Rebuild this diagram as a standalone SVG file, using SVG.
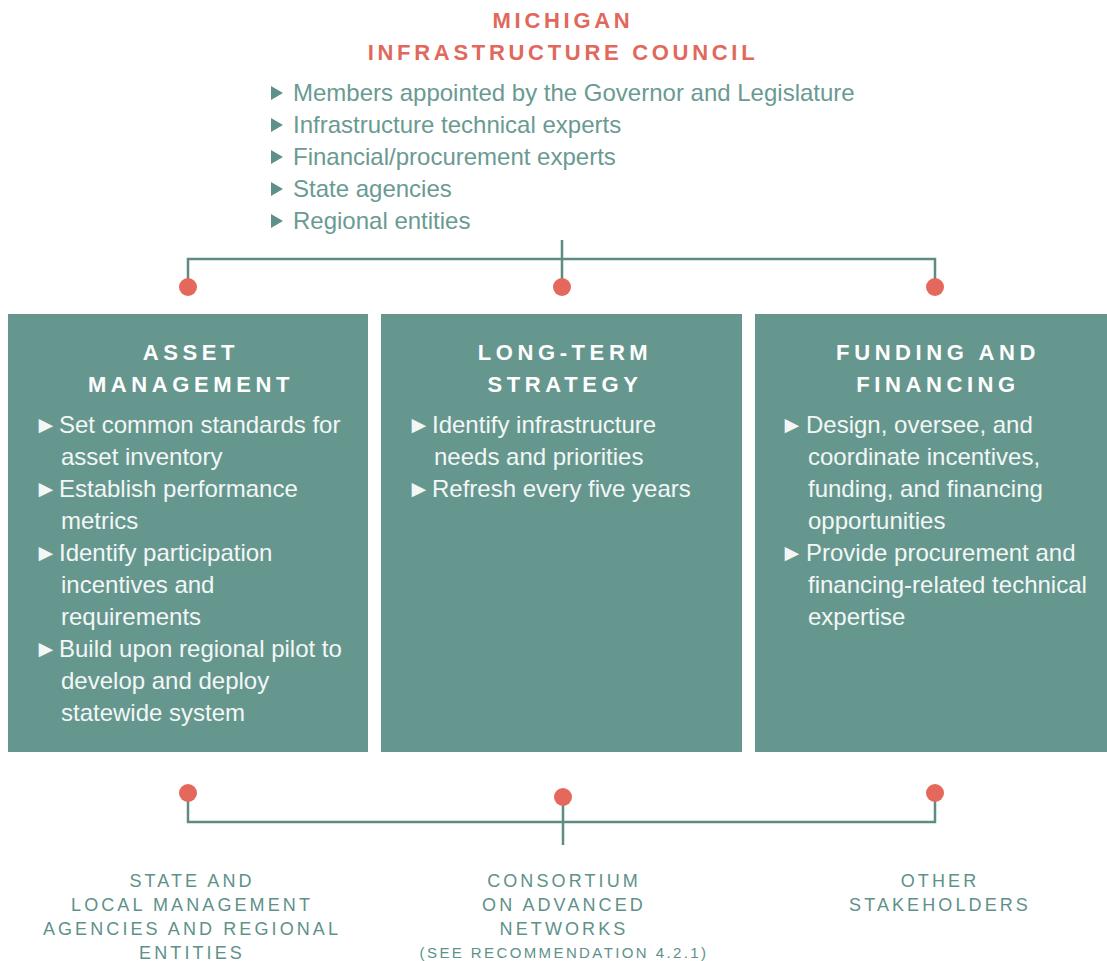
<svg xmlns="http://www.w3.org/2000/svg" xmlns:xlink="http://www.w3.org/1999/xlink" width="1107" height="961" viewBox="0 0 1107 961">
<style>
.title{font-family:"Liberation Sans",Arial,sans-serif;font-weight:bold;font-size:22px;letter-spacing:3.7px;fill:#e0685c;text-anchor:middle}
.mem{font-family:"Liberation Sans",Arial,sans-serif;font-size:24px;fill:#6a9a92}
.box{fill:#66978e}
.hdr{font-family:"Liberation Sans",Arial,sans-serif;font-weight:bold;font-size:22px;letter-spacing:4.6px;fill:#ffffff;text-anchor:middle}
.bt{font-family:"Liberation Sans",Arial,sans-serif;font-size:24px;fill:#f2f7f6}
.lbl{font-family:"Liberation Sans",Arial,sans-serif;font-size:18px;letter-spacing:3.1px;fill:#5e9189;text-anchor:middle}
.sm{font-size:15px;letter-spacing:2.4px}
.ln{stroke:#5e8c83;stroke-width:2.5;fill:none}
.dot{fill:#e5685c}
</style>
<defs>
<polygon id="tri" points="0,-7 12,0 0,7" fill="#5e9189"/>
</defs>
<g id="council">
<text class="title" x="563" y="28">MICHIGAN</text>
<text class="title" x="563" y="60">INFRASTRUCTURE COUNCIL</text>
<use xlink:href="#tri" x="271" y="93"/>
<use xlink:href="#tri" x="271" y="125"/>
<use xlink:href="#tri" x="271" y="157"/>
<use xlink:href="#tri" x="271" y="189"/>
<use xlink:href="#tri" x="271" y="221"/>
<text class="mem" x="293" y="101">Members appointed by the Governor and Legislature</text>
<text class="mem" x="293" y="133">Infrastructure technical experts</text>
<text class="mem" x="293" y="165">Financial/procurement experts</text>
<text class="mem" x="293" y="197">State agencies</text>
<text class="mem" x="293" y="229">Regional entities</text>
</g>
<g id="connectors">
<path class="ln" d="M562,240 V287 M188,287 V259 H935 V287"/>
<circle class="dot" cx="188" cy="287" r="9"/>
<circle class="dot" cx="562" cy="287" r="9"/>
<circle class="dot" cx="935" cy="287" r="9"/>
<path class="ln" d="M188,793 V822 H935 V793 M563,797 V845"/>
<circle class="dot" cx="188" cy="793" r="9"/>
<circle class="dot" cx="563" cy="797" r="9"/>
<circle class="dot" cx="935" cy="793" r="9"/>
</g>
<g id="asset-management">
<rect class="box" x="8" y="314" width="360" height="438"/>
<text class="hdr" x="191" y="360">ASSET</text>
<text class="hdr" x="191" y="392">MANAGEMENT</text>
<text class="bt" x="34" y="433">►</text><text class="bt" x="59" y="433">Set common standards for</text>
<text class="bt" x="61" y="465">asset inventory</text>
<text class="bt" x="34" y="497">►</text><text class="bt" x="59" y="497">Establish performance</text>
<text class="bt" x="61" y="529">metrics</text>
<text class="bt" x="34" y="561">►</text><text class="bt" x="59" y="561">Identify participation</text>
<text class="bt" x="61" y="593">incentives and</text>
<text class="bt" x="61" y="625">requirements</text>
<text class="bt" x="34" y="657">►</text><text class="bt" x="59" y="657">Build upon regional pilot to</text>
<text class="bt" x="61" y="689">develop and deploy</text>
<text class="bt" x="61" y="721">statewide system</text>
</g>
<g id="long-term-strategy">
<rect class="box" x="381" y="314" width="361" height="438"/>
<text class="hdr" x="565" y="360">LONG-TERM</text>
<text class="hdr" x="565" y="392">STRATEGY</text>
<text class="bt" x="407" y="433">►</text><text class="bt" x="432" y="433">Identify infrastructure</text>
<text class="bt" x="434" y="465">needs and priorities</text>
<text class="bt" x="407" y="497">►</text><text class="bt" x="432" y="497">Refresh every five years</text>
</g>
<g id="funding-financing">
<rect class="box" x="755" y="314" width="352" height="438"/>
<text class="hdr" x="938" y="360">FUNDING AND</text>
<text class="hdr" x="938" y="392">FINANCING</text>
<text class="bt" x="780" y="433">►</text><text class="bt" x="806" y="433">Design, oversee, and</text>
<text class="bt" x="808" y="465">coordinate incentives,</text>
<text class="bt" x="808" y="497">funding, and financing</text>
<text class="bt" x="808" y="529">opportunities</text>
<text class="bt" x="780" y="561">►</text><text class="bt" x="806" y="561">Provide procurement and</text>
<text class="bt" x="808" y="593">financing-related technical</text>
<text class="bt" x="808" y="625">expertise</text>
</g>
<g id="state-local">
<text class="lbl" x="192" y="887">STATE AND</text>
<text class="lbl" x="192" y="911">LOCAL MANAGEMENT</text>
<text class="lbl" x="192" y="935">AGENCIES AND REGIONAL</text>
<text class="lbl" x="192" y="959">ENTITIES</text>
</g>
<g id="consortium">
<text class="lbl" x="564" y="887">CONSORTIUM</text>
<text class="lbl" x="564" y="911">ON ADVANCED</text>
<text class="lbl" x="564" y="935">NETWORKS</text>
<text class="lbl sm" x="564" y="958">(SEE RECOMMENDATION 4.2.1)</text>
</g>
<g id="other">
<text class="lbl" x="940" y="887">OTHER</text>
<text class="lbl" x="940" y="911">STAKEHOLDERS</text>
</g>
</svg>
